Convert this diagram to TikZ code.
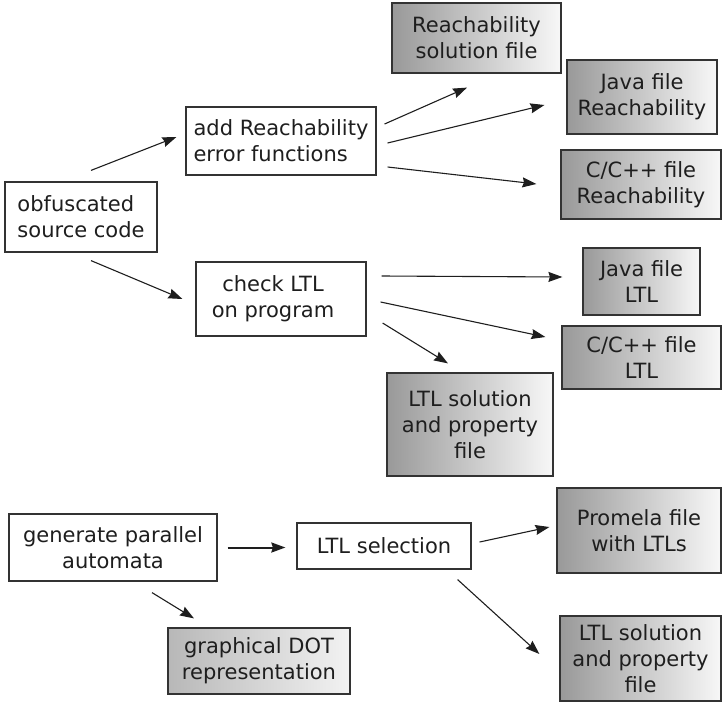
\documentclass[tikz,border=0pt]{standalone}
\usepackage{fontspec}
\setmainfont{DejaVu Sans}
\usetikzlibrary{arrows.meta}
\definecolor{frame}{HTML}{333333}
\definecolor{ink}{HTML}{1E1E1E}
\begin{document}
\begin{tikzpicture}[x=1pt,y=-1pt,
  basebox/.style={draw=frame, line width=1.2pt, inner sep=0pt, align=center,
    text=ink, font=\fontsize{21}{26}\selectfont},
  plainbox/.style={basebox, fill=white},
  filebox/.style={basebox, left color=black!40, right color=white!97!black},
  palebox/.style={basebox, left color=black!28, right color=white!95!black},
  arr/.style={draw=ink, line width=1.1pt, -{Stealth[length=14pt,width=10pt,inset=1.5pt]}},
  boldarr/.style={arr, line width=2pt}]
\useasboundingbox (0,0) rectangle (722,704);

% sources and processing steps
\node[plainbox, minimum width=152pt, minimum height=70pt, align=left] (obf) at (81,217) {obfuscated\\source code};
\node[plainbox, minimum width=190pt, minimum height=68pt, align=left] (addR) at (281,141) {add Reachability\\error functions};
\node[plainbox, minimum width=170pt, minimum height=74pt] (chk) at (281,299) {check LTL\hspace*{16pt}\\on program\hspace*{16pt}};
\node[plainbox, minimum width=208pt, minimum height=67pt] (gen) at (113,547.5) {generate parallel\\automata};
\node[plainbox, minimum width=174pt, minimum height=46pt] (sel) at (384,546) {LTL selection};

% generated files
\node[filebox, minimum width=169pt, minimum height=70pt] (rsf) at (476.5,38) {Reachability\\solution file};
\node[filebox, minimum width=150pt, minimum height=74pt] (javaR) at (642,97) {Java file\\Reachability};
\node[filebox, minimum width=160pt, minimum height=69pt] (cR) at (641,184.5) {C/C++ file\\Reachability};
\node[filebox, minimum width=117pt, minimum height=67pt] (javaL) at (641.5,281.5) {Java file\\LTL};
\node[filebox, minimum width=159pt, minimum height=63pt] (cL) at (641.5,357.5) {C/C++ file\\LTL};
\node[filebox, minimum width=166pt, minimum height=103pt] (sol1) at (470,424.5) {LTL solution\\and property\\file};
\node[filebox, minimum width=164pt, minimum height=85pt] (prom) at (639,530.5) {Promela file\\with LTLs};
\node[filebox, minimum width=161pt, minimum height=85pt] (sol2) at (640.5,658.5) {LTL solution\\and property\\file};
\node[palebox, minimum width=182pt, minimum height=66pt] (dot) at (259,661) {graphical DOT\\representation};

% connectors
\draw[arr] ([shift={(10,-11)}]obf.north) -- ([shift={(-9,-4)}]addR.west);
\draw[arr] ([shift={(10,8)}]obf.south) -- ([shift={(-13,0)}]chk.west);
\draw[arr] ([shift={(8,-17)}]addR.east) -- ([shift={(-9.5,14)}]rsf.south);
\draw[arr] ([shift={(11,2)}]addR.east) -- ([shift={(-22,8)}]javaR.west);
\draw[arr] ([shift={(11,26)}]addR.east) -- ([shift={(-24,-0.5)}]cR.west);
\draw[arr] ([shift={(15,-23)}]chk.east) -- ([shift={(-20,-4.5)}]javaL.west);
\draw[arr] ([shift={(14,3)}]chk.east) -- ([shift={(-16,-20.5)}]cL.west);
\draw[arr] ([shift={(16,24)}]chk.east) -- ([shift={(-22,-9)}]sol1.north);
\draw[boldarr] ([shift={(10,0)}]gen.east) -- ([shift={(-11,1.5)}]sel.west);
\draw[arr] ([shift={(39,11)}]gen.south) -- ([shift={(-65,-9)}]dot.north);
\draw[arr] ([shift={(8,-4)}]sel.east) -- ([shift={(-7,-3.5)}]prom.west);
\draw[arr] ([shift={(-14,10)}]sel.south east) -- ([shift={(-20,-4.5)}]sol2.west);
\end{tikzpicture}
\end{document}
